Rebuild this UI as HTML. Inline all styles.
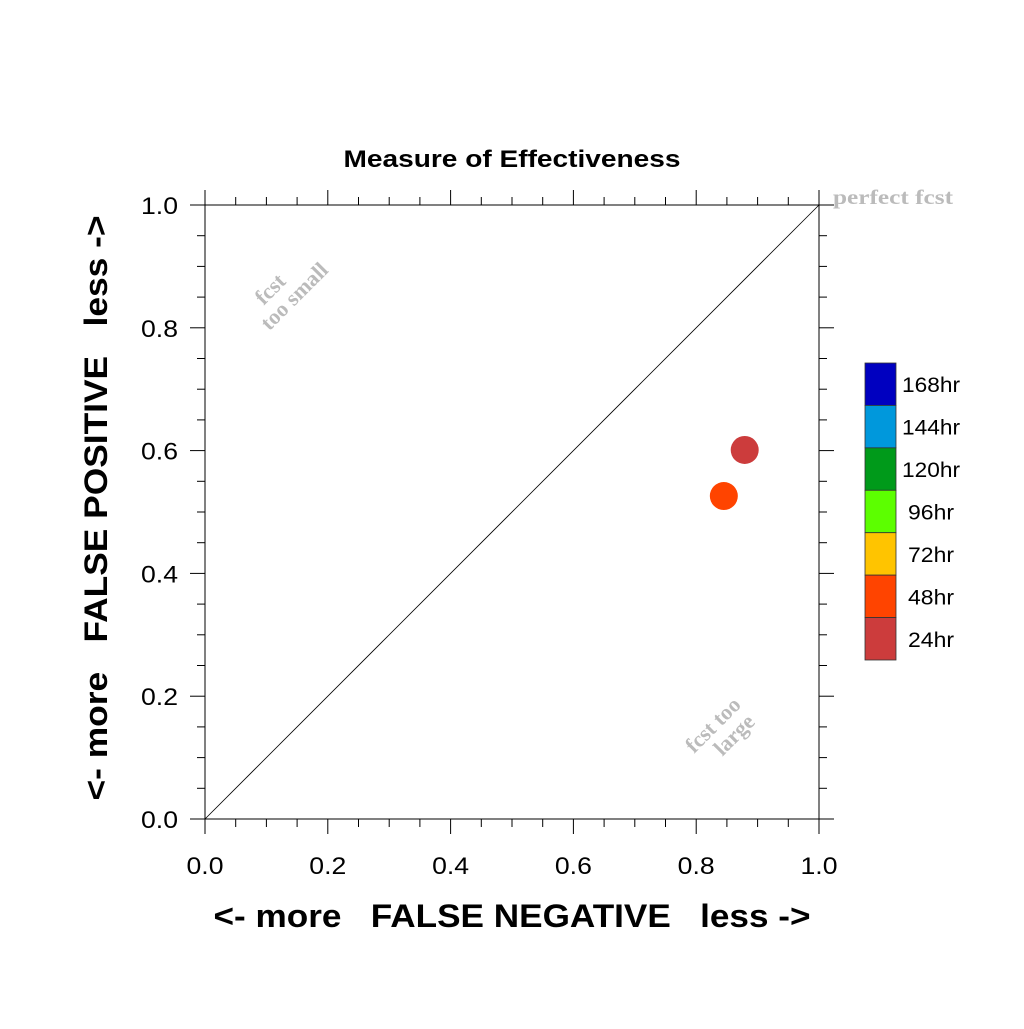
<!DOCTYPE html>
<html><head><meta charset="utf-8"><style>
body{margin:0;background:#fff}
svg text{font-family:"Liberation Sans",sans-serif}
</style></head><body>
<svg id="c" width="1024" height="1024" viewBox="0 0 1024 1024">
<text x="512" y="167" text-anchor="middle" font-size="24" font-weight="bold" textLength="337" lengthAdjust="spacingAndGlyphs">Measure of Effectiveness</text>
<g id="axes"></g>
<line x1="205" y1="819" x2="819" y2="205" stroke="#000" stroke-width="0.8"/>
<text x="893" y="204" text-anchor="middle" font-size="21" font-weight="bold" fill="#bbb" textLength="120" lengthAdjust="spacingAndGlyphs" style="font-family:'Liberation Serif',serif">perfect fcst</text>
<g transform="translate(288,290) rotate(-45)" fill="#bbb" font-size="22" font-weight="bold">
<text x="-12" y="-6" text-anchor="middle" style="font-family:'Liberation Serif',serif">fcst</text>
<text x="0" y="16" text-anchor="middle" style="font-family:'Liberation Serif',serif">too small</text></g>
<g transform="translate(718,730) rotate(-45)" fill="#bbb" font-size="22" font-weight="bold">
<text x="0" y="0" text-anchor="middle" style="font-family:'Liberation Serif',serif">fcst too</text>
<text x="8" y="22" text-anchor="middle" style="font-family:'Liberation Serif',serif">large</text></g>
<g id="pts"></g>
<g id="leg"></g>
<text x="512" y="927" text-anchor="middle" font-size="32" font-weight="bold" xml:space="preserve" textLength="597" lengthAdjust="spacingAndGlyphs">&lt;- more   FALSE NEGATIVE   less -&gt;</text>
<text transform="translate(107,508) rotate(-90)" text-anchor="middle" font-size="32" font-weight="bold" xml:space="preserve" textLength="585" lengthAdjust="spacingAndGlyphs">&lt;- more   FALSE POSITIVE   less -&gt;</text>
</svg>
<script>
const ticks=[0,0.2,0.4,0.6,0.8,1.0];
const tickLabels=["0.0","0.2","0.4","0.6","0.8","1.0"];
const seriesNames=["24hr","48hr"];
const fnValues=[0.879,0.845];
const fpValues=[0.601,0.526];
const legendLabels=["168hr","144hr","120hr","96hr","72hr","48hr","24hr"];
const legendColors=["#0000c0","#0098dc","#009a1a","#5cff00","#ffc400","#ff4400","#cc3c3c"];
const pointColors=["#cc3c3c","#ff4400"];
const X=v=>205+v*614, Y=v=>819-v*614;
const NS="http://www.w3.org/2000/svg";
function mk(p,t,a){const e=document.createElementNS(NS,t);for(const k in a)e.setAttribute(k,a[k]);p.appendChild(e);return e;}
const ax=document.getElementById('axes');
const frame=mk(ax,'rect',{x:205,y:205,width:614,height:614,fill:'none',stroke:'#000','stroke-width':1});


for(let i=0;i<=20;i++){const v=i*0.05;const major=i%4===0;const L=major?15:8;
 const a=mk(ax,'line',{x1:X(v),y1:819,x2:X(v),y2:819+L,stroke:'#000'});
 const b=mk(ax,'line',{x1:X(v),y1:205,x2:X(v),y2:205-L,stroke:'#000'});
 const c=mk(ax,'line',{x1:205,y1:Y(v),x2:205-L,y2:Y(v),stroke:'#000'});
 const d=mk(ax,'line',{x1:819,y1:Y(v),x2:819+L,y2:Y(v),stroke:'#000'});}
ticks.forEach((v,i)=>{
 const t=mk(ax,'text',{x:X(v),y:874,'text-anchor':'middle','font-size':24,textLength:37,lengthAdjust:'spacingAndGlyphs'});t.textContent=tickLabels[i];
 
 const u=mk(ax,'text',{x:178,y:Y(v)+9,'text-anchor':'end','font-size':24,textLength:37,lengthAdjust:'spacingAndGlyphs'});u.textContent=tickLabels[i];
 });
const pg=document.getElementById('pts');
fnValues.forEach((v,i)=>{const c=mk(pg,'circle',{cx:X(v),cy:Y(fpValues[i]),r:14,fill:pointColors[i]});
 });
const lg=document.getElementById('leg');const h=297/legendLabels.length;
legendLabels.forEach((l,i)=>{const r=mk(lg,'rect',{x:865,y:363+i*h,width:31,height:h,fill:legendColors[i],stroke:'#333','stroke-width':0.8});
 
 const w=l.length===5?58:46;
 const t=mk(lg,'text',{x:931,y:363+i*h+h/2+8,'text-anchor':'middle','font-size':21,textLength:w,lengthAdjust:'spacingAndGlyphs'});t.textContent=l;
 });
</script>
</body></html>
